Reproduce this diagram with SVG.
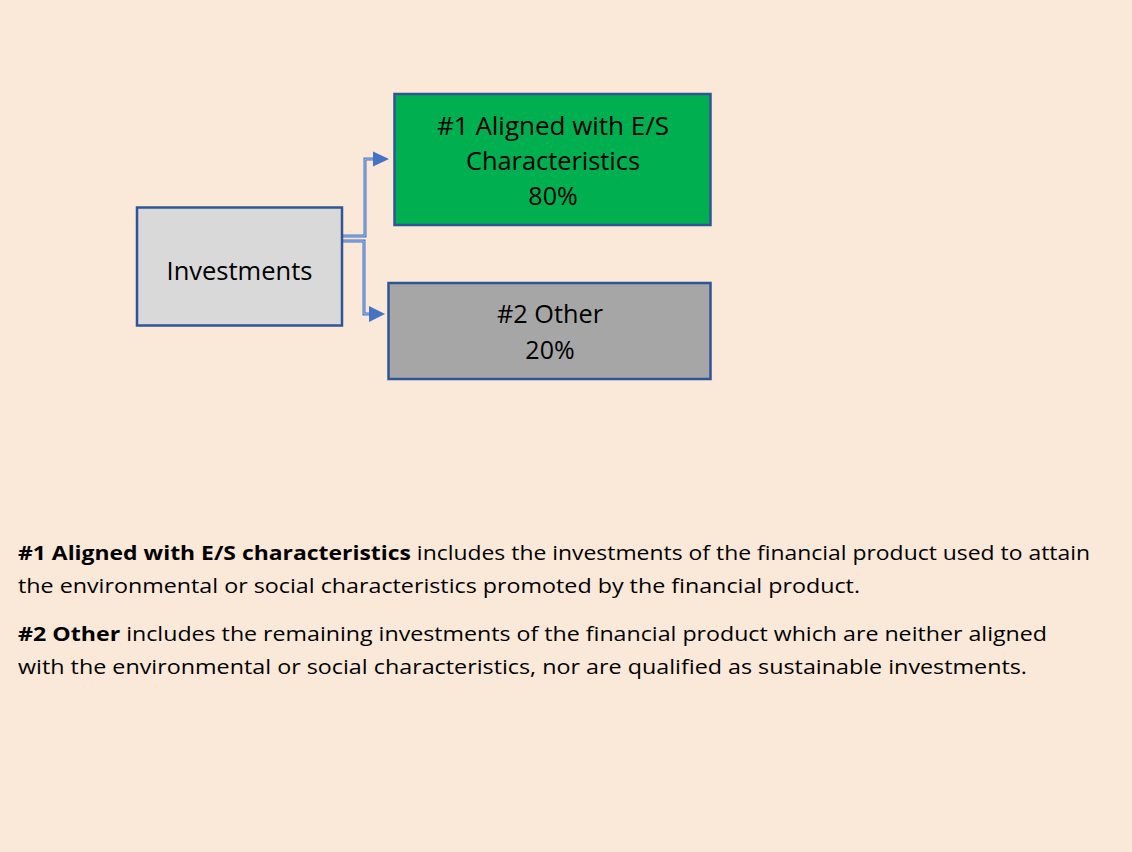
<svg xmlns="http://www.w3.org/2000/svg" width="1132" height="852" viewBox="0 0 1132 852">
<style>
.box{stroke:#2F5597;stroke-width:2.5}
.t{font-family:"Open Sans","Liberation Sans",sans-serif;font-size:25px;fill:#000;text-anchor:middle}
.p{font-family:"Open Sans","Liberation Sans",sans-serif;font-size:19.5px;fill:#000}
.b{font-weight:bold}
.c{fill:none;stroke:#4472C4;stroke-width:3}
.ci{fill:none;stroke:#C5D3EC;stroke-width:0.8}
</style>
<rect x="0" y="0" width="1132" height="852" fill="#FAE8D8"/>
<g id="connectors">
<path class="c" d="M342 236 H365 V159 H374"/>
<path class="ci" d="M342 236 H365 V159 H374"/>
<polygon points="373,151.5 389,159 373,166.5" fill="#4472C4"/>
<path class="c" d="M342 241 H364 V314 H370"/>
<path class="ci" d="M342 241 H364 V314 H370"/>
<polygon points="369,306 385,314 369,322" fill="#4472C4"/>
</g>
<g id="investments">
<rect class="box" x="137" y="207.5" width="205" height="118" fill="#D9D9D9"/>
<text class="t" x="239.5" y="280" textLength="146" lengthAdjust="spacingAndGlyphs">Investments</text>
</g>
<g id="aligned">
<rect class="box" x="394.5" y="94" width="316" height="131" fill="#00B050"/>
<text class="t" x="553" y="135" textLength="232" lengthAdjust="spacingAndGlyphs">#1 Aligned with E/S</text>
<text class="t" x="553" y="170" textLength="174" lengthAdjust="spacingAndGlyphs">Characteristics</text>
<text class="t" x="553" y="205">80%</text>
</g>
<g id="other">
<rect class="box" x="388.5" y="283" width="322" height="96" fill="#A6A6A6"/>
<text class="t" x="550" y="323" textLength="106" lengthAdjust="spacingAndGlyphs">#2 Other</text>
<text class="t" x="550" y="359">20%</text>
</g>
<g id="legend">
<text class="p" x="18" y="560" textLength="1072" lengthAdjust="spacingAndGlyphs"><tspan class="b">#1 Aligned with E/S characteristics</tspan> includes the investments of the financial product used to attain</text>
<text class="p" x="18" y="593" textLength="842" lengthAdjust="spacingAndGlyphs">the environmental or social characteristics promoted by the financial product.</text>
<text class="p" x="18" y="641" textLength="1029" lengthAdjust="spacingAndGlyphs"><tspan class="b">#2 Other</tspan> includes the remaining investments of the financial product which are neither aligned</text>
<text class="p" x="18" y="674" textLength="1009" lengthAdjust="spacingAndGlyphs">with the environmental or social characteristics, nor are qualified as sustainable investments.</text>
</g>
</svg>
